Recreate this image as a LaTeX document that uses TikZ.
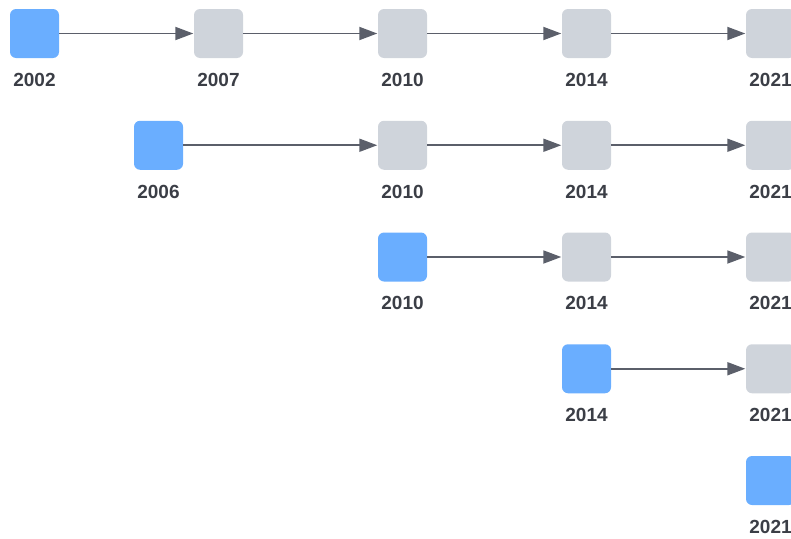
\documentclass[tikz,border=0pt]{standalone}
\usepackage{fontspec}
\setmainfont{Liberation Sans}
\usetikzlibrary{arrows.meta}

\definecolor{newblue}{HTML}{6AAEFF}
\definecolor{oldgrey}{HTML}{CFD4DB}
\definecolor{linkgrey}{HTML}{5B5F6A}
\definecolor{yeartext}{HTML}{3B3E46}

\tikzset{
    yearlbl/.style={font=\fontsize{19}{21}\selectfont\bfseries, text=yeartext, inner sep=0pt, text height=13.5pt, text depth=0pt},
    release/.style={rectangle, rounded corners=6pt, minimum size=49pt, inner sep=0pt, fill=#1, label={[yearlbl,label distance=14.5pt]below:\yr}},
    link/.style={draw=linkgrey, line width=1.8pt, -{Triangle[length=18pt,width=13pt]}, shorten >=0.5pt}
}
\newcommand{\yr}{}

\begin{document}
\begin{tikzpicture}[x=1pt,y=1pt]
        \useasboundingbox (0,0) rectangle (791,-538);
        % row 1
        \renewcommand{\yr}{2002}\node[release=newblue] (A1) at (34.5,-33.5) {};
        \renewcommand{\yr}{2007}\node[release=oldgrey] (A2) at (218.5,-33.5) {};
        \renewcommand{\yr}{2010}\node[release=oldgrey] (A3) at (402.5,-33.5) {};
        \renewcommand{\yr}{2014}\node[release=oldgrey] (A4) at (586.5,-33.5) {};
        \renewcommand{\yr}{2021}\node[release=oldgrey] (A5) at (770.5,-33.5) {};
        % row 2
        \renewcommand{\yr}{2006}\node[release=newblue] (B1) at (158.5,-145.25) {};
        \renewcommand{\yr}{2010}\node[release=oldgrey] (B3) at (402.5,-145.25) {};
        \renewcommand{\yr}{2014}\node[release=oldgrey] (B4) at (586.5,-145.25) {};
        \renewcommand{\yr}{2021}\node[release=oldgrey] (B5) at (770.5,-145.25) {};
        % row 3
        \renewcommand{\yr}{2010}\node[release=newblue] (C3) at (402.5,-257) {};
        \renewcommand{\yr}{2014}\node[release=oldgrey] (C4) at (586.5,-257) {};
        \renewcommand{\yr}{2021}\node[release=oldgrey] (C5) at (770.5,-257) {};
        % row 4
        \renewcommand{\yr}{2014}\node[release=newblue] (D4) at (586.5,-368.75) {};
        \renewcommand{\yr}{2021}\node[release=oldgrey] (D5) at (770.5,-368.75) {};
        % row 5
        \renewcommand{\yr}{2021}\node[release=newblue] (E5) at (770.5,-480.5) {};

        \draw[link] (A1) -- (A2);
        \draw[link] (A2) -- (A3);
        \draw[link] (A3) -- (A4);
        \draw[link] (A4) -- (A5);
        \draw[link] (B1) -- (B3);
        \draw[link] (B3) -- (B4);
        \draw[link] (B4) -- (B5);
        \draw[link] (C3) -- (C4);
        \draw[link] (C4) -- (C5);
        \draw[link] (D4) -- (D5);
    \end{tikzpicture}
\end{document}
